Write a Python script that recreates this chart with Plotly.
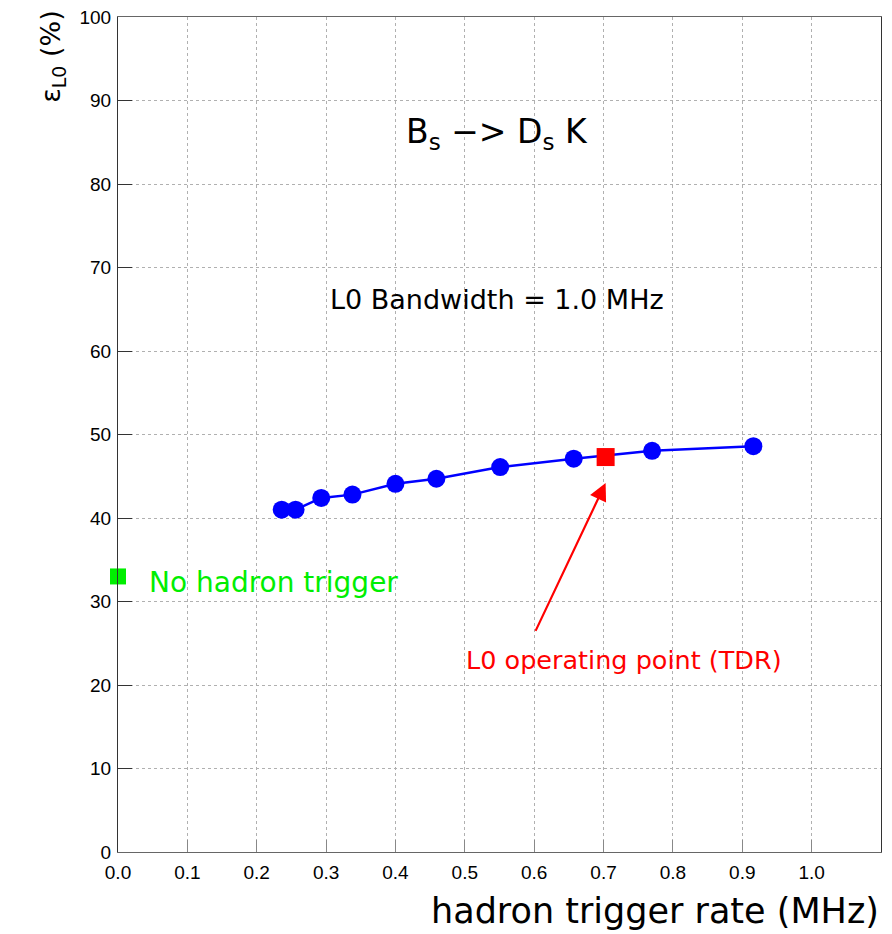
import plotly.graph_objects as go

rate = [0.236, 0.256, 0.293, 0.338, 0.400, 0.459, 0.551, 0.657, 0.770, 0.916]
eff = [41.0, 41.0, 42.4, 42.8, 44.1, 44.7, 46.1, 47.1, 48.05, 48.6]
tdr_rate = [0.703]
tdr_eff = [47.3]
nohad_rate = [0.0]
nohad_eff = [33.0]
x_ticks = [0.0, 0.1, 0.2, 0.3, 0.4, 0.5, 0.6, 0.7, 0.8, 0.9, 1.0]
x_ticklabels = ["0.0", "0.1", "0.2", "0.3", "0.4", "0.5", "0.6", "0.7", "0.8", "0.9", "1.0"]
y_ticks = [0, 10, 20, 30, 40, 50, 60, 70, 80, 90, 100]

FONT = "Liberation Sans, Arial, sans-serif"
TFONT = "DejaVu Sans, sans-serif"

fig = go.Figure()
fig.add_trace(go.Scatter(x=rate, y=eff, mode="lines+markers",
                         line=dict(color="#0000ff", width=2.5),
                         marker=dict(color="#0000ff", size=18, symbol="circle"),
                         showlegend=False))
fig.add_trace(go.Scatter(x=tdr_rate, y=tdr_eff, mode="markers",
                         marker=dict(color="#ff0000", size=18, symbol="square"),
                         showlegend=False))
fig.add_trace(go.Scatter(x=nohad_rate, y=nohad_eff, mode="markers",
                         marker=dict(color="#00ee00", size=16, symbol="square"),
                         showlegend=False, cliponaxis=False))

fig.add_annotation(x=0.546, y=86.1, text="B<sub>s</sub> \u2212> D<sub>s</sub> K",
                   showarrow=False, font=dict(family=TFONT, size=33, color="black"))
fig.add_annotation(x=0.546, y=66.2, text="L0 Bandwidth = 1.0 MHz",
                   showarrow=False, font=dict(family=TFONT, size=27, color="black"))
fig.add_annotation(x=0.042, y=32.3, text="No hadron trigger", xanchor="left",
                   showarrow=False, font=dict(family=TFONT, size=28, color="#00ee00"))
fig.add_annotation(x=0.73, y=23.0, text="L0 operating point (TDR)",
                   showarrow=False, font=dict(family=TFONT, size=25.5, color="#ff0000"))
fig.add_annotation(x=0.703, y=44.2, ax=0.601, ay=26.3, axref="x", ayref="y",
                   xref="x", yref="y", text="", showarrow=True,
                   arrowhead=2, arrowsize=1.6, arrowwidth=2.2, arrowcolor="#ff0000")

fig.add_annotation(xref="paper", yref="paper", x=1.0, y=-0.071, xanchor="right",
                   yanchor="middle", text="hadron trigger rate (MHz)", showarrow=False,
                   font=dict(family=TFONT, size=35, color="black"))
fig.add_annotation(xref="paper", yref="paper", x=-0.085, y=1.01, xanchor="center",
                   yanchor="top", textangle=-90, text="\u03b5<sub>L0</sub> (%)",
                   showarrow=False, font=dict(family=TFONT, size=27, color="black"))

fig.update_layout(
    width=892, height=934,
    margin=dict(l=118, r=11, t=17, b=82),
    plot_bgcolor="white", paper_bgcolor="white",
    xaxis=dict(range=[0, 1.1], tickvals=x_ticks, ticktext=x_ticklabels, automargin=False,
               showgrid=True, gridcolor="#b0b0b0", griddash="dot", gridwidth=1,
               zeroline=False, showline=True, linecolor="#666666", linewidth=1,
               mirror=True, ticks="inside", ticklen=12, tickcolor="#888888",
               ticklabelstandoff=3,
               tickfont=dict(family=FONT, size=19, color="black")),
    yaxis=dict(range=[0, 100], tickvals=y_ticks, automargin=False,
               showgrid=True, gridcolor="#b0b0b0", griddash="dot", gridwidth=1,
               zeroline=False, showline=True, linecolor="#333333", linewidth=1,
               mirror=True, ticks="inside", ticklen=14, tickcolor="#333333",
               ticklabelstandoff=2,
               tickfont=dict(family=FONT, size=19, color="black")),
)

fig.write_html("out.html", config={"displayModeBar": False},
               post_script="document.body.style.margin='0';")
